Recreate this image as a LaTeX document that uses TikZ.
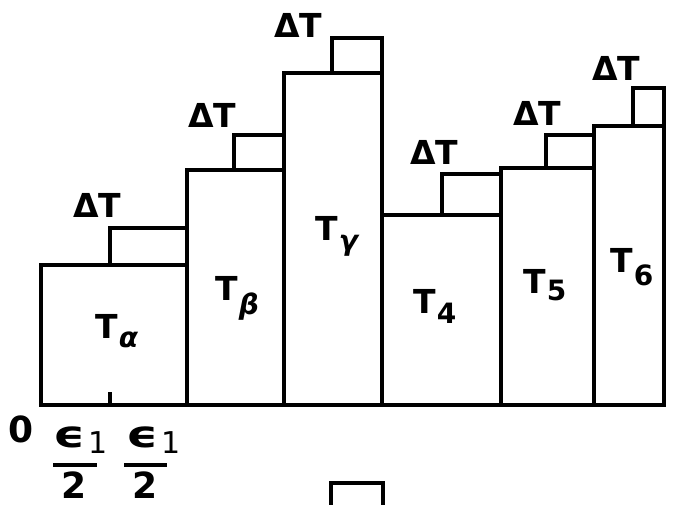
\documentclass[tikz,border=0pt]{standalone}
\usepackage{fontspec}
\usepackage{graphicx}
\setmainfont{DejaVu Sans}
% T with a lowered subscript: #1 subscript, #2 drop
\newcommand{\Tsub}[2]{T\kern0.5pt\raisebox{-#2}{\fontsize{14}{15}\selectfont #1}}
% lunate epsilon with index 1
\newcommand{\epsone}{\scalebox{1.35}[1]{\fontsize{18.5}{20}\selectfont ϵ}\kern1.5pt\raisebox{-3pt}{\mdseries\fontsize{15}{16}\selectfont 1}}

\begin{document}
\begin{tikzpicture}[
    x=0.5pt, y=-0.5pt,
    bar/.style={draw=black, line width=2pt},
    fbar/.style={draw=black, line width=1.6pt},
    lab/.style={inner sep=0pt, anchor=base west, font=\fontsize{16.5}{20}\selectfont\bfseries},
    axlab/.style={inner sep=0pt, anchor=base west, font=\fontsize{16}{18}\selectfont\bfseries},
]
\useasboundingbox (0,0) rectangle (678,504);

% bars standing on the base line
\draw[bar] (41,405) rectangle (187,265);
\draw[bar] (187,405) rectangle (284,170);
\draw[bar] (284,405) rectangle (382,73);
\draw[bar] (382,405) rectangle (501,215);
\draw[bar] (501,405) rectangle (594,168);
\draw[bar] (594,405) rectangle (664,126);

% the Delta T increments on top
\draw[bar] (110,265) rectangle (187,228);
\draw[bar] (234,170) rectangle (284,135);
\draw[bar] (332,73) rectangle (382,38);
\draw[bar] (442,215) rectangle (501,174);
\draw[bar] (546,168) rectangle (594,135);
\draw[bar] (633,126) rectangle (664,88);

% tick at the middle of the first step, and the box cut off below
\draw[bar] (110,405) -- (110,392);
\draw[bar] (331,512) -- (331,483) -- (383,483) -- (383,512);

\node[lab] (dt1) at (73,217) {ΔT};
\node[lab] (dt2) at (188,127) {ΔT};
\node[lab] (dt3) at (274,37) {ΔT};
\node[lab] (dt4) at (410,164) {ΔT};
\node[lab] (dt5) at (513,125) {ΔT};
\node[lab] (dt6) at (592,80) {ΔT};

\node[lab] (ta) at (95,338) {\Tsub{\itshape α}{4.5pt}};
\node[lab] (tb) at (215,300) {\Tsub{\itshape β}{7pt}};
\node[lab] (tg) at (315,240) {\Tsub{\itshape γ}{5pt}};
\node[lab] (t4) at (413,313) {\Tsub{4}{5pt}};
\node[lab] (t5) at (523,293) {\Tsub{5}{3.5pt}};
\node[lab] (t6) at (610,272) {\Tsub{6}{6.5pt}};

% origin and the two half widths
\node[axlab, font=\fontsize{18}{20}\selectfont\bfseries] (zero) at (8,442) {0};
\node[axlab] (eps1) at (53,447) {\epsone};
\node[axlab] (eps2) at (126,447) {\epsone};
\draw[fbar] (53,465) -- (97,465);
\draw[fbar] (124,465) -- (167,465);
\node[axlab, anchor=base, font=\fontsize{18}{20}\selectfont\bfseries] (two1) at (74,498) {2};
\node[axlab, anchor=base, font=\fontsize{18}{20}\selectfont\bfseries] (two2) at (145,498) {2};
\end{tikzpicture}
\end{document}
